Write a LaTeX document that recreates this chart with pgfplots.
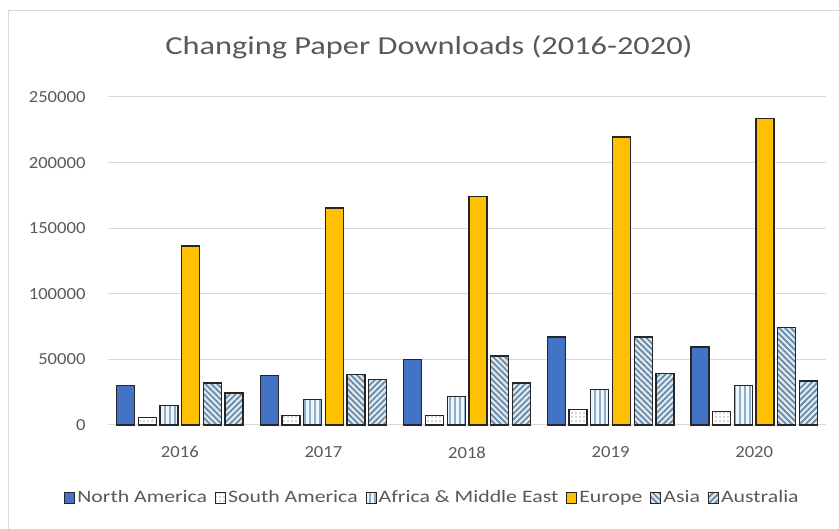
\documentclass[border=0pt]{standalone}
\usepackage{pgfplots}
\pgfplotsset{compat=1.18}
\usepackage{fontspec}
\setmainfont{Carlito}[FakeStretch=1.25]
\newfontfamily\tickfont{Carlito}[FakeStretch=1.1]
\usetikzlibrary{patterns,patterns.meta}
\definecolor{nablue}{HTML}{4472C4}
\definecolor{euyel}{HTML}{FFC000}
\definecolor{txtgray}{HTML}{595959}
\definecolor{gridgray}{HTML}{D9D9D9}
\definecolor{edge}{HTML}{262626}
\definecolor{stripe}{HTML}{6A879F}
\definecolor{stripebg}{HTML}{DCEAF5}
\definecolor{vstripe}{HTML}{8FAFC8}
\definecolor{vbg}{HTML}{EEF5FB}
\begin{document}
\begin{tikzpicture}[x=1bp,y=1bp]
\useasboundingbox (0,0) rectangle (839,529);
\draw[gridgray, line width=1bp] (8,0) -- (8,518) -- (839,518);
\node[text=txtgray, font=\fontsize{26}{30}\selectfont] at (429,482) {Changing Paper Downloads (2016-2020)};
\begin{axis}[
  at={(108bp,104bp)}, anchor=south west,
  scale only axis, width=718bp, height=328bp,
  ybar=3.7bp, bar width=18bp,
  xmin=-0.5, xmax=4.5, ymin=0, ymax=250000,
  xtick={0,1,2,3,4}, xticklabels={2016,2017,2018,2019,2020},
  ytick={0,50000,100000,150000,200000,250000},
  scaled y ticks=false,
  /pgf/number format/assume math mode=true,
  /pgf/number format/.cd, fixed, 1000 sep={}, /pgfplots/.cd,
  ymajorgrids, grid style={gridgray, line width=1bp},
  axis x line*=bottom, axis y line*=left,
  y axis line style={draw=none},
  x axis line style={draw=gridgray, line width=1bp, -},
  major tick length=0pt,
  tick label style={text=txtgray, font=\tickfont\fontsize{17}{20}\selectfont},
  xticklabel style={yshift=-18bp},
  yticklabel style={xshift=-19bp},
  legend columns=6,
  legend style={draw=none, fill=none, at={(0.452,-0.22)}, anchor=center,
    font=\fontsize{17.5}{20}\selectfont, text=txtgray,
    /tikz/every even column/.append style={column sep=6bp}},
  legend image code/.code={\draw[#1, line width=1bp] (0bp,-6bp) rectangle (10bp,5bp);},
  every axis plot/.append style={draw=edge, line width=1.3bp},
  clip=false,
]
\addplot[fill=nablue] coordinates {(0,30000) (1,37500) (2,50000) (3,67000) (4,59500)};
\addplot[fill=white, postaction={pattern={Dots[distance=4bp, radius=0.7bp]}, pattern color=txtgray}] coordinates {(0,5500) (1,7500) (2,7500) (3,12000) (4,10500)};
\addplot[fill=vbg, postaction={pattern={Lines[angle=90, distance=5bp, line width=1.2bp]}, pattern color=vstripe}] coordinates {(0,15000) (1,19500) (2,21500) (3,27000) (4,30000)};
\addplot[fill=euyel] coordinates {(0,136500) (1,165500) (2,174000) (3,219500) (4,233500)};
\addplot[fill=stripebg, postaction={pattern={Lines[angle=-45, distance=4.2bp, line width=1.7bp]}, pattern color=stripe}] coordinates {(0,32000) (1,38500) (2,52500) (3,67000) (4,74500)};
\addplot[fill=stripebg, postaction={pattern={Lines[angle=45, distance=4.2bp, line width=1.7bp]}, pattern color=stripe}] coordinates {(0,24500) (1,34500) (2,32000) (3,39500) (4,33500)};
\legend{North America, South America, Africa \& Middle East, Europe, Asia, Australia}
\end{axis}
\end{tikzpicture}
\end{document}
